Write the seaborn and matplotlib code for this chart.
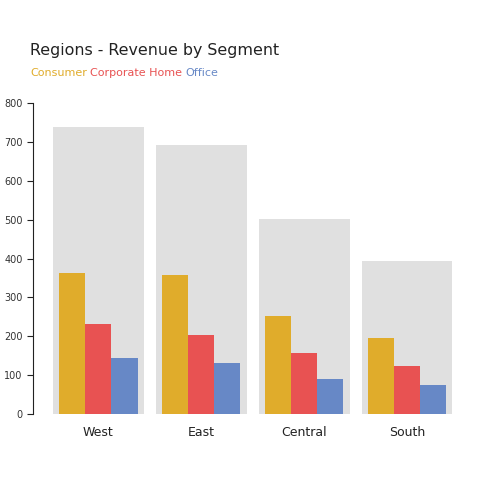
import matplotlib
matplotlib.use("Agg")
import matplotlib.pyplot as plt
import seaborn as sns
import pandas as pd

regions = ["West", "East", "Central", "South"]
segments = ["Consumer", "Corporate", "Home Office"]
consumer = [363, 358, 253, 195]
corporate = [233, 203, 157, 123]
home_office = [143, 131, 91, 75]
seg_colors = ["#e0ac2b", "#e85252", "#6788c6"]
subtitle_words = ["Consumer", "Corporate Home", "Office"]

rows = []
for i, r in enumerate(regions):
    for s, vals in zip(segments, [consumer, corporate, home_office]):
        rows.append({"Region": r, "Segment": s, "Revenue": vals[i]})
df = pd.DataFrame(rows)
totals = pd.DataFrame({"Region": regions,
                       "Total": [c + p + h for c, p, h in zip(consumer, corporate, home_office)]})

sns.set_style("white")
plt.rcParams["font.family"] = ["DejaVu Sans"]
fig = plt.figure(figsize=(4.8, 4.8), dpi=100)
ax = fig.add_axes([47 / 480, 66 / 480, (458.6 - 47) / 480, (414 - 103.3) / 480])

sns.barplot(data=totals, x="Region", y="Total", order=regions, color="#e0e0e0",
            width=0.88, linewidth=0, ax=ax, errorbar=None)
sns.barplot(data=df, x="Region", y="Revenue", hue="Segment", order=regions,
            hue_order=segments, palette=seg_colors, width=0.76, linewidth=0,
            saturation=1, ax=ax, errorbar=None, legend=False)

ax.set_ylim(0, 800)
ax.set_xlim(-0.5, 3.5)
ax.set_xlabel("")
ax.set_ylabel("")
ax.set_yticks([0, 100, 200, 300, 400, 500, 600, 700, 800])
sns.despine(ax=ax, bottom=True, offset=10)
ax.tick_params(axis="y", labelsize=7, length=4, width=0.8, color="#222222", labelcolor="#333333", left=True)
ax.tick_params(axis="x", labelsize=9, length=0, labelcolor="#222222", pad=9)
ax.spines["left"].set_color("#222222")

fig.text(30 / 480, 1 - 55 / 480, "Regions - Revenue by Segment", fontsize=11.4,
         color="#222222", ha="left", va="baseline")

renderer = fig.canvas.get_renderer()
t1 = fig.text(0, 0, "a a", fontsize=8)
t2 = fig.text(0, 0, "aa", fontsize=8)
space = t1.get_window_extent(renderer=renderer).width - t2.get_window_extent(renderer=renderer).width
t1.remove()
t2.remove()
x = 30 / 480
for word, col in zip(subtitle_words, seg_colors):
    t = fig.text(x, 1 - 76 / 480, word, fontsize=8, color=col, ha="left", va="baseline")
    bb = t.get_window_extent(renderer=renderer)
    x += (bb.width + space) / 480

fig.savefig("out.png", dpi=100)
